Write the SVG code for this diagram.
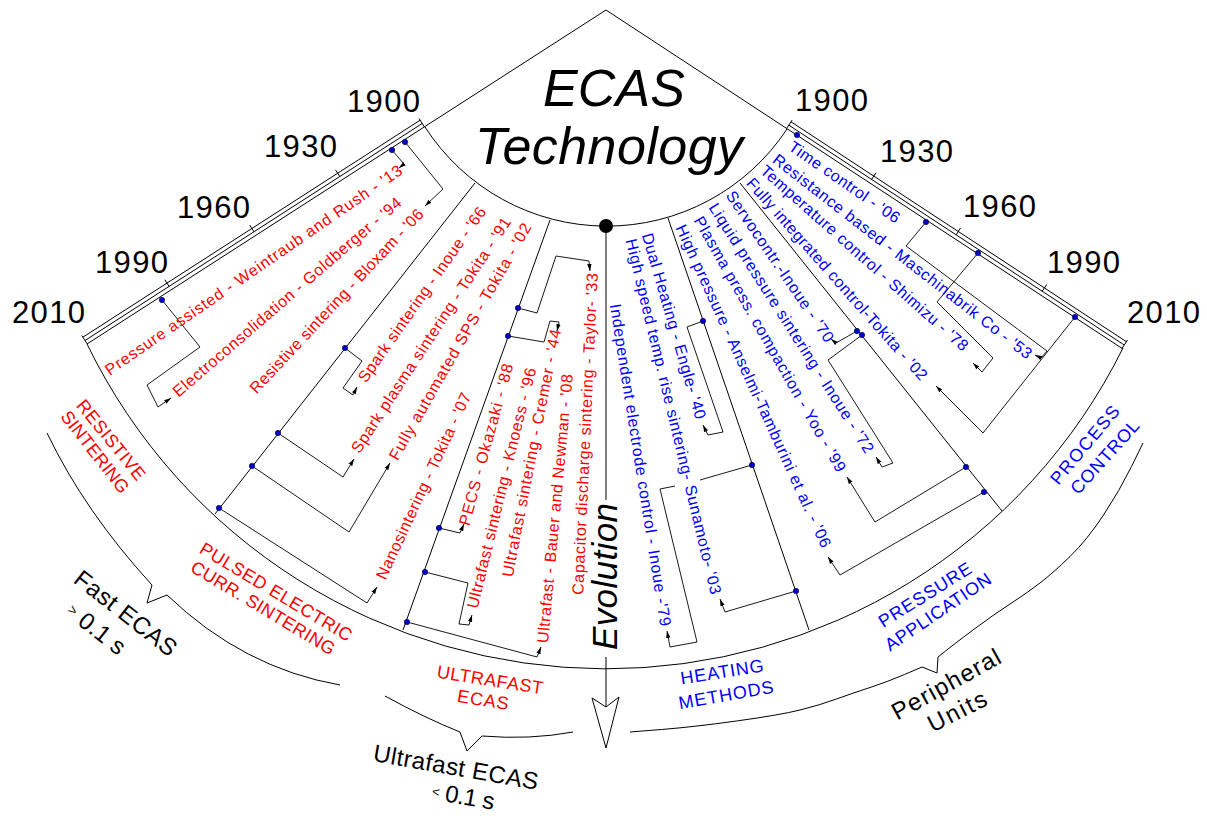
<svg xmlns="http://www.w3.org/2000/svg" width="1207" height="816" viewBox="0 0 1207 816">
<defs>
<style>
text{font-family:"Liberation Sans",Arial,sans-serif}
.ln{fill:none;stroke:#000;stroke-width:1}
.cn{fill:none;stroke:#000;stroke-width:0.9;marker-end:url(#ah)}
.cp{fill:none;stroke:#000;stroke-width:0.9}
.dot{fill:#0000cc;stroke:#00003a;stroke-width:0.6}
.t{font-size:16px;dominant-baseline:central;text-anchor:middle}
.r{fill:#ff0000}
.b{fill:#0000ff}
.cat{font-size:18px;dominant-baseline:central;text-anchor:middle}
.yr{font-size:31px;fill:#000}
.grp{font-size:24px;fill:#000;dominant-baseline:central;text-anchor:middle}
.ttl{font-size:52px;font-style:italic;fill:#000;text-anchor:middle}
</style>
<marker id="ah" viewBox="0 0 7 5" refX="7" refY="2.5" markerWidth="7" markerHeight="5" markerUnits="userSpaceOnUse" orient="auto"><path d="M0,0.3 L7,2.5 L0,4.7 Z" fill="#000"/></marker>
</defs>
<rect width="1207" height="816" fill="#fff"/>

<g id="frame">
<path class="ln" d="M606,10 L87,344 M606,10 L1123,349"/>
<path class="ln" d="M425,127 A216,216 0 0 0 787,129"/>
<path class="ln" d="M87,344 A577,577 0 0 0 1123,348"/>
<path class="ln" d="M475,183 L215,514 M550,220 L403,630 M668,218 L809,630 M740,183 L1002,511"/>
</g>

<g id="scale-left">
<path class="ln" d="M422.2,123.5 L85,340.5 M420.1,120.2 L82.9,337.2"/>
<path class="ln" d="M339.8,176.5 L335.5,169.8 M254,231.8 L249.7,225 M169.1,286.4 L164.8,279.7 M424.4,126.9 L419,118.5 M87.2,343.9 L81.8,335.5"/>
<text class="yr" x="420" y="112" text-anchor="end" textLength="73">1900</text>
<text class="yr" x="337" y="157" text-anchor="end" textLength="73">1930</text>
<text class="yr" x="250" y="218" text-anchor="end" textLength="73">1960</text>
<text class="yr" x="168" y="273" text-anchor="end" textLength="73">1990</text>
<text class="yr" x="85" y="323" text-anchor="end" textLength="73">2010</text>
</g>

<g id="scale-right">
<path class="ln" d="M788.8,125.1 L1124.2,345 M791,121.8 L1126.4,341.7"/>
<path class="ln" d="M871.6,179.4 L876,172.7 M956.1,234.8 L960.5,228.1 M1042.2,291.3 L1046.6,284.6 M786.6,128.5 L792.1,120.1 M1122,348.4 L1127.5,340"/>
<text class="yr" x="795" y="111" textLength="73">1900</text>
<text class="yr" x="880" y="162" textLength="73">1930</text>
<text class="yr" x="963" y="217" textLength="73">1960</text>
<text class="yr" x="1047" y="273" textLength="73">1990</text>
<text class="yr" x="1127" y="323" textLength="73">2010</text>
</g>

<g id="title">
<text class="ttl" x="614" y="106" textLength="142">ECAS</text>
<text class="ttl" x="609" y="164" textLength="268">Technology</text>
</g>

<g id="connectors">
<path class="cn" d="M392,150 L404,164 L399,168"/>
<path class="cn" d="M162,300 L200,347 L147,385 L158,407 L171,398"/>
<path class="cn" d="M405,142 L443,189 L425,206"/>
<path class="cn" d="M345,348 L362,361 L343,388 L353,395 L357,387"/>
<path class="cn" d="M278,433 L343,477 L354,459"/>
<path class="cn" d="M252,466 L349,532 L390,463"/>
<path class="cn" d="M219,508 L367,603 L377,587"/>
<path class="cn" d="M518,308 L537,313 L556,256 L589,261 L590,271"/>
<path class="cn" d="M508,336 L544,342 L550,321 L559,322 L557,331"/>
<path class="cn" d="M439,528 L460,533 L464,524"/>
<path class="cn" d="M425,572 L468,583 L459,624 L469,625 L472,615"/>
<path class="cn" d="M407,622 L537,657 L541,647"/>
<path class="cn" d="M703,321 L687,327 L723,432 L708,435 L703,425"/>
<path class="cp" d="M752,465 L700,480"/>
<path class="cn" d="M675,486 L660,489 L697,642 L670,647 L667,631"/>
<path class="cn" d="M796,591 L725,612 L720,599"/>
<path class="cn" d="M857,331 L836,343 L831,339"/>
<path class="cn" d="M862,335 L828,360 L893,463 L882,467 L876,457"/>
<path class="cn" d="M966,467 L875,522 L847,477"/>
<path class="cn" d="M984,492 L840,575 L828,557"/>
<path class="cn" d="M926,222 L906,246 L1047,351 L1041,358 L1035,355"/>
<path class="cn" d="M978,253 L937,302 L993,358 L982,372 L973,363"/>
<path class="cn" d="M1075,317 L983,433 L936,386"/>
</g>

<g id="evolution">
<path class="ln" d="M606,226 L606,500 M606,657 L606,707"/>
<polygon points="592,698 606,707 619,697 606,748" fill="#fff" stroke="#000" stroke-width="1"/>
<circle cx="606" cy="226" r="7" fill="#000"/>
<text x="617" y="576.5" font-size="35" font-style="italic" text-anchor="middle" textLength="147" transform="rotate(-90 617 576.5)">Evolution</text>
</g>

<g id="dots">
<circle class="dot" cx="392" cy="150" r="2.7"/>
<circle class="dot" cx="405" cy="142" r="2.7"/>
<circle class="dot" cx="162" cy="300" r="2.7"/>
<circle class="dot" cx="345" cy="348" r="2.7"/>
<circle class="dot" cx="278" cy="433" r="2.7"/>
<circle class="dot" cx="252" cy="466" r="2.7"/>
<circle class="dot" cx="219" cy="508" r="2.7"/>
<circle class="dot" cx="518" cy="308" r="2.7"/>
<circle class="dot" cx="508" cy="336" r="2.7"/>
<circle class="dot" cx="439" cy="528" r="2.7"/>
<circle class="dot" cx="425" cy="572" r="2.7"/>
<circle class="dot" cx="407" cy="622" r="2.7"/>
<circle class="dot" cx="703" cy="321" r="2.7"/>
<circle class="dot" cx="752" cy="465" r="2.7"/>
<circle class="dot" cx="796" cy="591" r="2.7"/>
<circle class="dot" cx="857" cy="331" r="2.7"/>
<circle class="dot" cx="862" cy="335" r="2.7"/>
<circle class="dot" cx="966" cy="467" r="2.7"/>
<circle class="dot" cx="984" cy="492" r="2.7"/>
<circle class="dot" cx="797" cy="135" r="2.7"/>
<circle class="dot" cx="926" cy="222" r="2.7"/>
<circle class="dot" cx="978" cy="253" r="2.7"/>
<circle class="dot" cx="1075" cy="317" r="2.7"/>
</g>

<g id="n-weintraub"><text class="t r" x="253.5" y="270" textLength="357" transform="rotate(-34.6 253.5 270)">Pressure assisted - Weintraub and Rush - '13</text></g>
<g id="n-goldberger"><text class="t r" x="287" y="297" textLength="296" transform="rotate(-40.8 287 297)">Electroconsolidation - Goldberger - '94</text></g>
<g id="n-bloxam"><text class="t r" x="336.5" y="301" textLength="246" transform="rotate(-46.9 336.5 301)">Resistive sintering - Bloxam - '06</text></g>
<g id="n-inoue66"><text class="t r" x="422" y="294.5" textLength="210" transform="rotate(-54.9 422 294.5)">Spark sintering - Inoue - '66</text></g>
<g id="n-tokita91"><text class="t r" x="431" y="335" textLength="278" transform="rotate(-56.8 431 335)">Spark plasma sintering - Tokita - '91</text></g>
<g id="n-tokita02sps"><text class="t r" x="460" y="341.5" textLength="270" transform="rotate(-60.2 460 341.5)">Fully automated SPS - Tokita - '02</text></g>
<g id="n-tokita07"><text class="t r" x="423.5" y="486" textLength="204" transform="rotate(-65 423.5 486)">Nanosintering - Tokita - '07</text></g>
<g id="n-okazaki"><text class="t r" x="486" y="444.5" textLength="167" transform="rotate(-74.6 486 444.5)">PECS - Okazaki - '88</text></g>
<g id="n-knoess"><text class="t r" x="501.5" y="488" textLength="247" transform="rotate(-76.2 501.5 488)">Ultrafast sintering - Knoess - '96</text></g>
<g id="n-cremer"><text class="t r" x="531.5" y="453" textLength="252" transform="rotate(-78.9 531.5 453)">Ultrafast sintering - Cremer - '44</text></g>
<g id="n-bauer"><text class="t r" x="555" y="508.5" textLength="270" transform="rotate(-84.7 555 508.5)">Ultrafast - Bauer and Newman - '08</text></g>
<g id="n-taylor"><text class="t r" x="585" y="434" textLength="322" transform="rotate(-87.4 585 434)">Capacitor discharge sintering - Taylor- '33</text></g>
<g id="n-engle"><text class="t b" x="674" y="326" textLength="193" transform="rotate(73.7 674 326)">Dual Heating - Engle- '40</text></g>
<g id="n-sunamoto"><text class="t b" x="673.5" y="416.5" textLength="365" transform="rotate(76.5 673.5 416.5)">High speed temp. rise sintering- Sunamoto- '03</text></g>
<g id="n-inoue79"><text class="t b" x="640.5" y="465" textLength="326" transform="rotate(81.1 640.5 465)">Independent electrode control - Inoue -'79</text></g>
<g id="n-inoue70"><text class="t b" x="780" y="266.5" textLength="179" transform="rotate(55.8 780 266.5)">Servocontr.-Inoue - '70</text></g>
<g id="n-inoue72"><text class="t b" x="791.5" y="328" textLength="293" transform="rotate(57.5 791.5 328)">Liquid pressure sintering - Inoue - '72</text></g>
<g id="n-yoo"><text class="t b" x="770" y="344" textLength="291" transform="rotate(60.4 770 344)">Plasma press. compaction - Yoo - '99</text></g>
<g id="n-anselmi"><text class="t b" x="753.5" y="386" textLength="353" transform="rotate(65.5 753.5 386)">High pressure - Anselmi-Tamburini et al. - '06</text></g>
<g id="n-time"><text class="t b" x="844.5" y="182" textLength="131" transform="rotate(34.7 844.5 182)">Time control - '06</text></g>
<g id="n-maschinabrik"><text class="t b" x="902.5" y="256.5" textLength="323" transform="rotate(37.8 902.5 256.5)">Resistance based - Maschinabrik Co - '53</text></g>
<g id="n-shimizu"><text class="t b" x="864.5" y="258" textLength="271" transform="rotate(41.5 864.5 258)">Temperature control - Shimizu - '78</text></g>
<g id="n-tokita02"><text class="t b" x="837" y="279" textLength="264" transform="rotate(48.5 837 279)">Fully integrated control-Tokita - '02</text></g>

<g id="cat-resistive">
<text class="cat r" x="111" y="440" textLength="98" transform="rotate(51 111 440)">RESISTIVE</text>
<text class="cat r" x="95" y="452" textLength="99" transform="rotate(52 95 452)">SINTERING</text>
</g>
<g id="cat-pecs">
<text class="cat r" x="276" y="592" textLength="174" transform="rotate(31 276 592)">PULSED ELECTRIC</text>
<text class="cat r" x="263" y="608" textLength="165" transform="rotate(31 263 608)">CURR. SINTERING</text>
</g>
<g id="cat-ultrafast">
<text class="cat r" x="490" y="680" textLength="107" transform="rotate(9 490 680)">ULTRAFAST</text>
<text class="cat r" x="483" y="700" textLength="52" transform="rotate(9 483 700)">ECAS</text>
</g>
<g id="cat-heating">
<text class="cat b" x="722" y="672" textLength="84" transform="rotate(-9 722 672)">HEATING</text>
<text class="cat b" x="726" y="695" textLength="96" transform="rotate(-10 726 695)">METHODS</text>
</g>
<g id="cat-pressure">
<text class="cat b" x="925" y="595" textLength="106" transform="rotate(-32 925 595)">PRESSURE</text>
<text class="cat b" x="938" y="612" textLength="124" transform="rotate(-34 938 612)">APPLICATION</text>
</g>
<g id="cat-process">
<text class="cat b" x="1085" y="445" textLength="97" transform="rotate(-50 1085 445)">PROCESS</text>
<text class="cat b" x="1105" y="457" textLength="93" transform="rotate(-48 1105 457)">CONTROL</text>
</g>

<g id="brackets">
<path class="ln" d="M47,433 Q85,512 152,585 L147,603 L167,595 Q243,668 340,685"/>
<path class="ln" d="M385,696 Q425,718 460,732 L467,751 L482,736 Q530,740 573,732"/>
<path class="ln" d="M630,732 L661.5,729.5 Q693,727 736.5,721 Q780,715 800,710 Q820,705 836.5,699 Q853,693 870,687.5 Q887,682 904.5,674.5 L922,667 L937,673 L938,657 L945.5,651 Q953,645 973,630 Q993,615 1010,604 Q1027,593 1040,583 Q1053,573 1070,556.5 Q1087,540 1103.5,515 Q1120,490 1131.5,466.5 L1143,443"/>
</g>
<g id="grp-fast">
<text class="grp" x="126" y="613" textLength="123" transform="rotate(38 126 613)">Fast ECAS</text>
<text class="grp" x="96.5" y="628.5" textLength="68" transform="rotate(38 96.5 628.5)"><tspan font-size="14">&gt;</tspan> 0.1 s</text>
</g>
<g id="grp-ultrafast">
<text class="grp" x="456" y="767" textLength="167" transform="rotate(10 456 767)">Ultrafast ECAS</text>
<text class="grp" x="463.5" y="796" font-size="22" textLength="63" transform="rotate(10 463.5 796)"><tspan font-size="13">&lt;</tspan> 0.1 s</text>
</g>
<g id="grp-peripheral">
<text class="grp" x="946" y="684" textLength="121" transform="rotate(-29 946 684)">Peripheral</text>
<text class="grp" x="957" y="711" textLength="63" transform="rotate(-27 957 711)">Units</text>
</g>
</svg>
